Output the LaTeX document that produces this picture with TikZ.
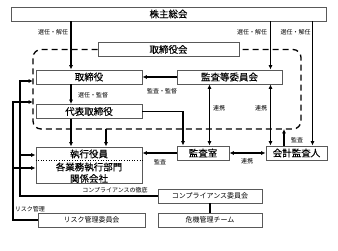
\documentclass[tikz,border=0pt]{standalone}
\usepackage{fontspec}
\setmainfont{Noto Sans CJK JP}
\newfontfamily\boxfont[FakeBold=0.25]{Noto Sans CJK JP}
\usetikzlibrary{arrows.meta,calc}
\begin{document}
\begin{tikzpicture}[x=1pt,y=-1pt,
  box/.style={draw=black!65, line width=0.9pt, fill=white, inner sep=0pt, minimum height=14pt, font=\boxfont\fontsize{9.5}{10}\selectfont},
  sbox/.style={box, font=\fontsize{7}{8}\selectfont},
  etext/.style={inner sep=0pt, font=\boxfont\fontsize{9.5}{10}\selectfont},
  conn/.style={line width=1.3pt, -{Latex[length=4.5pt,width=4.2pt]}},
  dconn/.style={line width=1.3pt, {Latex[length=4.5pt,width=4.2pt]}-{Latex[length=4.5pt,width=4.2pt]}},
  plainln/.style={line width=1.3pt},
  lab/.style={font=\fontsize{6}{7}\selectfont, inner sep=0pt},
  grp/.style={line width=1.3pt, dash pattern=on 6pt off 4pt, rounded corners=8pt}]
\useasboundingbox (0,0) rectangle (338,251);
% group outline coordinates
\coordinate (g1) at (33,49.5);
\coordinate (g2) at (33,129);
\coordinate (g3) at (301,129);
\coordinate (g4) at (301,49.5);
% column x positions
\coordinate (xa) at (71,0);
\coordinate (xb) at (106,0);
\coordinate (xc) at (183,0);
\coordinate (xd) at (209.5,0);
\coordinate (xe) at (270.5,0);
\coordinate (xf) at (284,0);
\coordinate (xg) at (312.5,0);
\coordinate (ta) at (20,81);
\coordinate (tb) at (13,102);
\coordinate (br1) at (0,155);
\coordinate (br2) at (0,168);
\coordinate (dl) at (0,160.5);
% boxes
\node[box, minimum width=315pt] (kabu) at (168.5,14) {株主総会};
\node[box, minimum width=141pt] (torikai) at (168.5,49.5) {取締役会};
\draw[grp] (torikai.west) -- (g1) -- (g2) -- (g3) -- (g4) -- (torikai.east);
\node[box, minimum width=106pt] (tori) at (89,77) {取締役};
\node[box, minimum width=105pt] (kansa) at (229.5,77) {監査等委員会};
\node[box, minimum width=106pt] (daihyo) at (89,111.5) {代表取締役};
\node[box, minimum width=52pt] (shitsu) at (203,153) {監査室};
\node[box, minimum width=61pt] (kaikei) at (296.5,153) {会計監査人};
\node[box, minimum width=106pt, minimum height=36pt] (exec) at (89,165) {};
\node[etext] (e1) at (89,154) {執行役員};
\node[etext] (e2) at (89,167) {各業務執行部門};
\node[etext] (e3) at (89,178.5) {関係会社};
\draw[dotted, line width=0.6pt] (exec.west |- dl) -- (exec.east |- dl);
\node[sbox, minimum width=104pt] (comp) at (210,196) {コンプライアンス委員会};
\node[sbox, minimum width=104pt] (kiki) at (210,220) {危機管理チーム};
\node[sbox, minimum width=107pt] (risk) at (91.5,220) {リスク管理委員会};
% connectors
\draw[conn] (kabu.south -| xa) -- (tori.north -| xa);
\draw[conn] (kabu.south -| xe) -- (kansa.north -| xe);
\draw[conn] (kabu.south -| xg) -- (kaikei.north -| xg);
\draw[conn] (kansa.west) -- (tori.east);
\draw[conn] (tori.south -| xa) -- (daihyo.north -| xa);
\draw[conn] (daihyo.south -| xa) -- (exec.north -| xa);
\draw[conn] (g2 -| xb) -- (exec.north -| xb);
\draw[conn] (daihyo.east) -| (shitsu.north -| xc);
\draw[dconn] (kansa.south -| xd) -- (shitsu.north -| xd);
\draw[dconn] (kansa.south -| xe) -- (kaikei.north -| xe);
\draw[conn] (kaikei.north -| xf) -- (g2 -| xf);
\draw[dconn] (shitsu.east) -- (kaikei.west);
\draw[conn] (shitsu.west) -- (exec.east |- shitsu.west);
\draw[conn] (comp.west) -| (ta) -- (g1 |- ta);
\draw[conn] (risk.west) -| (tb) -- (g1 |- tb);
\draw[conn] (ta |- br1) -- (exec.west |- br1);
\draw[conn] (tb |- br2) -- (exec.west |- br2);
\draw[plainln] (comp) -- (kiki);
% labels
\node[lab] (l1) at (53,32) {選任・解任};
\node[lab] (l2) at (252,32) {選任・解任};
\node[lab] (l3) at (295.5,32) {選任・解任};
\node[lab] (l4) at (93,95) {選任・監督};
\node[lab] (l5) at (162,91) {監査・監督};
\node[lab] (l6) at (219,108) {連携};
\node[lab] (l7) at (261,108) {連携};
\node[lab] (l8) at (247,161) {連携};
\node[lab] (l9) at (160,162) {監査};
\node[lab] (l10) at (297,140) {監査};
\node[lab] (l11) at (115,190) {コンプライアンスの徹底};
\node[lab] (l12) at (30,209) {リスク管理};
\end{tikzpicture}
\end{document}
